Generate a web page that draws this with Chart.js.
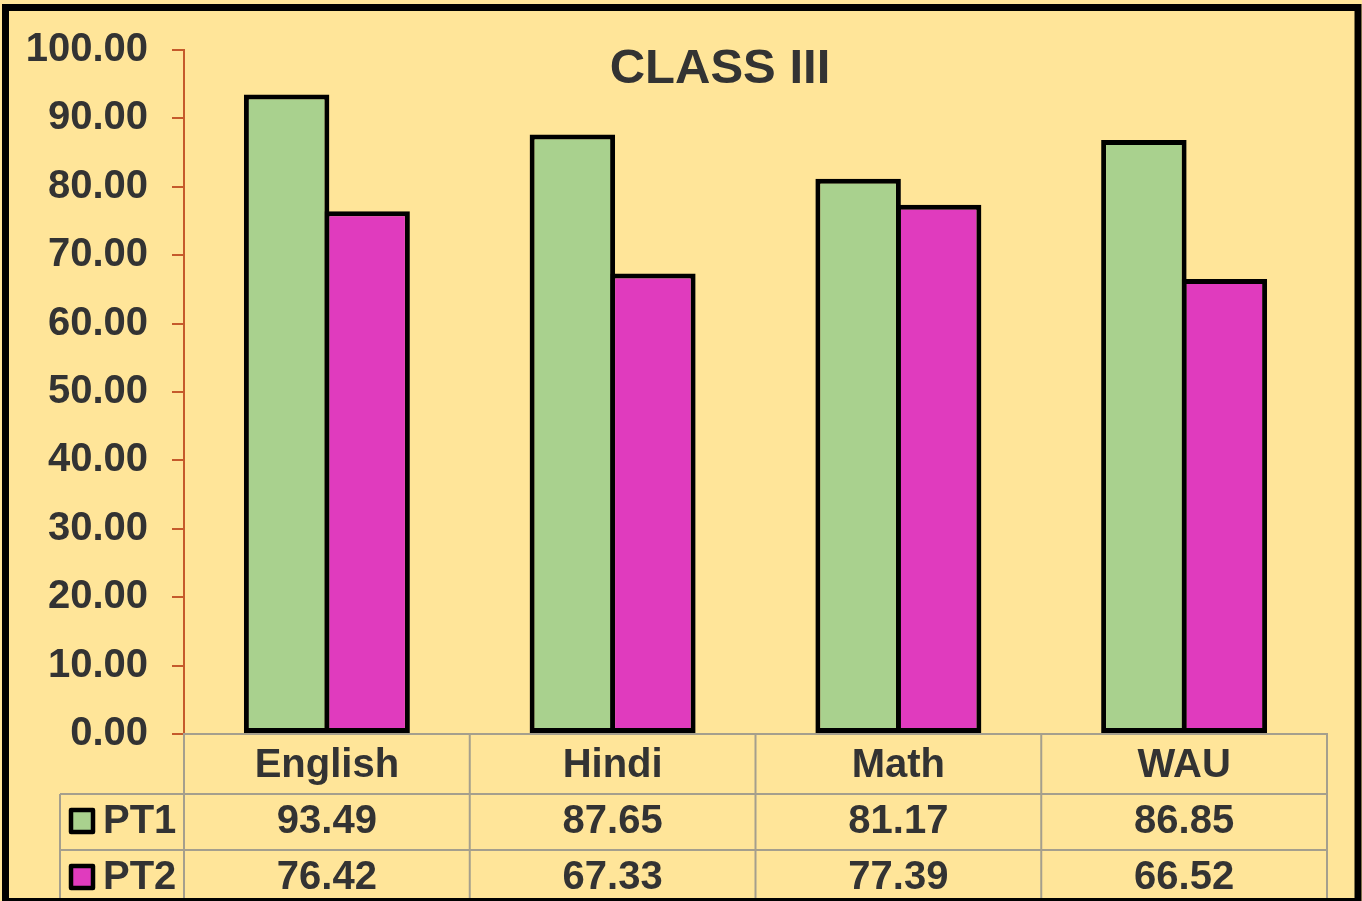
<!DOCTYPE html>
<html><head><meta charset="utf-8">
<script src="https://cdn.jsdelivr.net/npm/chart.js@4.4.1/dist/chart.umd.min.js"></script>
<style>html,body{margin:0;padding:0;background:#FFE599;overflow:hidden}canvas{display:block}</style>
</head><body>
<canvas id="c" width="1362" height="901"></canvas>
<script>
// ---- data ----
const categories = ['English', 'Hindi', 'Math', 'WAU'];
const seriesNames = ['PT1', 'PT2'];
const pt1 = [93.49, 87.65, 81.17, 86.85];
const pt2 = [76.42, 67.33, 77.39, 66.52];
const yMin = 0, yMax = 100, yStep = 10;
const chartTitle = 'CLASS III';

// ---- styles ----
const FONT = '"Liberation Sans", Arial, Helvetica, sans-serif';
const TEXT = '#333333';
const BG = '#FFE599';
const GREEN = '#A9D18E';
const MAGENTA = '#E03BBE';
const AXIS = '#C55A2B';
const GRID = '#A59F8D';

const bgPlugin = {
  id: 'bg',
  beforeDraw(chart) {
    const ctx = chart.ctx;
    ctx.save();
    ctx.fillStyle = BG;
    ctx.fillRect(0, 0, chart.width, chart.height);
    ctx.restore();
  }
};

const tablePlugin = {
  id: 'dataTable',
  afterDraw(chart) {
    const ctx = chart.ctx, xs = chart.scales.x, area = chart.chartArea;
    const rowTop = xs.bottom;
    const rowH = 56;
    const leftEdge = 60;
    const n = categories.length;
    const bounds = [area.left];
    for (let i = 0; i < n; i++) {
      bounds.push(i < n - 1 ? (xs.getPixelForValue(i) + xs.getPixelForValue(i + 1)) / 2 : area.right);
    }
    const line = (x1, y1, x2, y2) => { ctx.beginPath(); ctx.moveTo(x1, y1); ctx.lineTo(x2, y2); ctx.stroke(); };
    ctx.save();
    ctx.strokeStyle = GRID;
    ctx.lineWidth = 2;
    for (let r = 0; r <= 2; r++) { const y = rowTop + r * rowH; line(leftEdge, y, area.right, y); }
    line(leftEdge, rowTop, leftEdge, rowTop + 2 * rowH);
    bounds.forEach(bx => line(bx, area.bottom, bx, rowTop + 2 * rowH));

    ctx.font = 'bold 40px ' + FONT;
    ctx.fillStyle = TEXT;
    ctx.textBaseline = 'alphabetic';
    chart.data.datasets.forEach((ds, d) => {
      const base = rowTop + d * rowH + 39;
      // legend key
      const ky = rowTop + d * rowH + 16;
      ctx.fillStyle = ds.backgroundColor;
      ctx.fillRect(71, ky, 22, 22);
      ctx.strokeStyle = '#000';
      ctx.lineWidth = 4.5;
      ctx.lineJoin = 'round';
      ctx.strokeRect(71, ky, 22, 22);
      ctx.fillStyle = TEXT;
      ctx.textAlign = 'left';
      ctx.fillText(ds.label, 103, base);
      ctx.textAlign = 'center';
      ds.data.forEach((v, i) => {
        ctx.fillText(v.toFixed(2), xs.getPixelForValue(i), base);
      });
    });

    // title
    ctx.font = 'bold 49px ' + FONT;
    ctx.textAlign = 'center';
    ctx.fillStyle = TEXT;
    ctx.fillText(chartTitle, 720, 83);

    // outer border
    ctx.strokeStyle = '#000';
    ctx.lineWidth = 7;
    ctx.lineJoin = 'miter';
    ctx.strokeRect(5.5, 7.5, 1352.5, 894);
    ctx.restore();
  }
};

new Chart(document.getElementById('c'), {
  type: 'bar',
  data: {
    labels: categories,
    datasets: [
      { label: seriesNames[0], data: pt1, backgroundColor: GREEN, borderColor: '#000', borderWidth: 5, borderSkipped: false },
      { label: seriesNames[1], data: pt2, backgroundColor: MAGENTA, borderColor: '#000', borderWidth: 5, borderSkipped: false }
    ]
  },
  options: {
    responsive: false,
    devicePixelRatio: 1,
    animation: false,
    categoryPercentage: 0.5634,
    barPercentage: 1.062,
    layout: { padding: { left: 10, right: 35, top: 50, bottom: 107 } },
    plugins: { legend: { display: false }, tooltip: { enabled: false }, title: { display: false } },
    scales: {
      y: {
        min: yMin, max: yMax,
        ticks: {
          stepSize: yStep,
          padding: 24,
          color: TEXT,
          font: { family: FONT, size: 40, weight: 'bold' },
          callback: v => Number(v).toFixed(2)
        },
        grid: { drawOnChartArea: false, color: AXIS, lineWidth: 2, tickLength: 12 },
        border: { display: true, color: AXIS, width: 2 },
        afterFit(scale) { scale.width = 174; }
      },
      x: {
        ticks: {
          padding: 8,
          color: TEXT,
          font: { family: FONT, size: 40, weight: 'bold' },
          maxRotation: 0, autoSkip: false
        },
        grid: { display: false, drawTicks: false },
        border: { display: true, color: GRID, width: 2 },
        afterFit(scale) { scale.height = 60; }
      }
    }
  },
  plugins: [bgPlugin, tablePlugin]
});
</script>
</body></html>
